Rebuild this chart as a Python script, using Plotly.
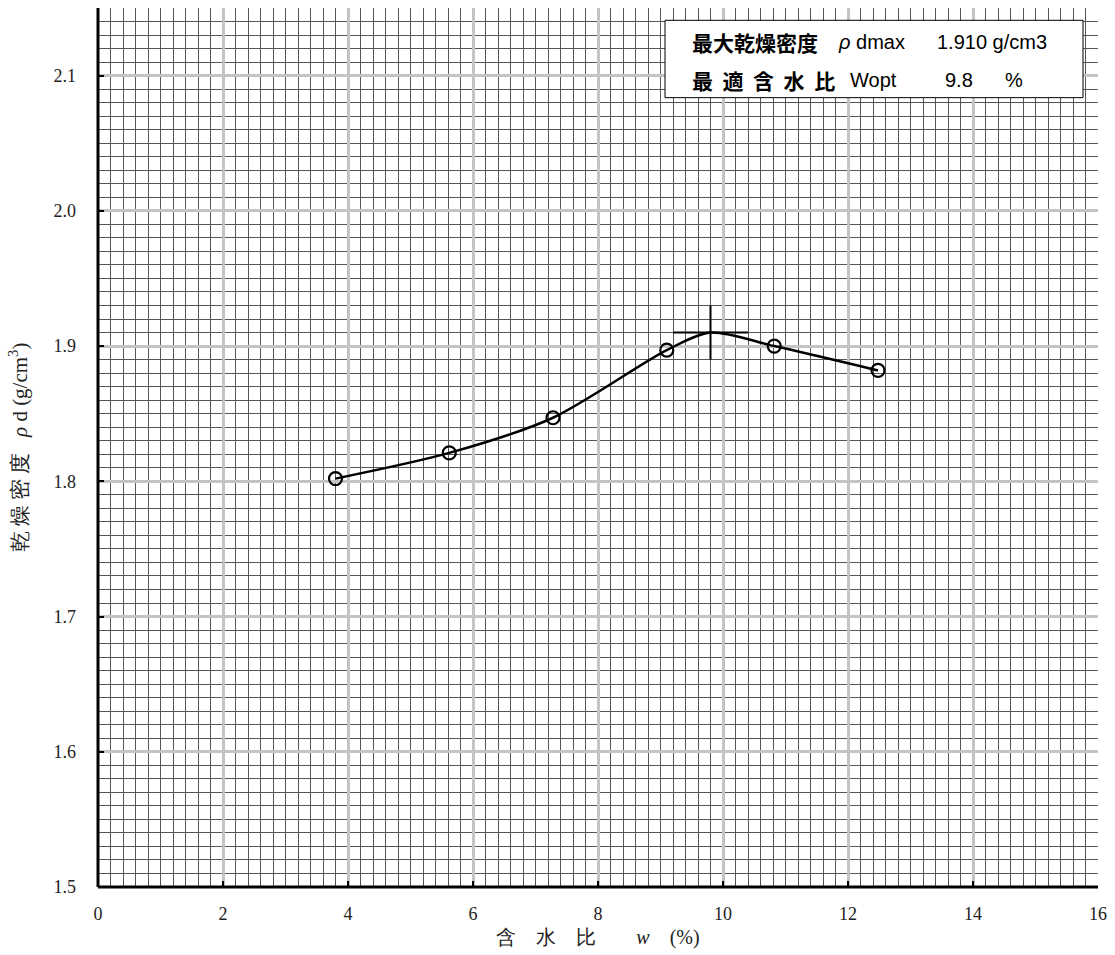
import plotly.graph_objects as go

# measured points
water_content = [3.8, 5.62, 7.28, 9.1, 10.82, 12.48]
dry_density = [1.802, 1.821, 1.847, 1.897, 1.900, 1.882]

# optimum
w_opt = 9.8
rho_dmax = 1.910

# curve through points and optimum
curve_x = [3.8, 5.62, 7.28, 9.1, 9.8, 10.82, 12.48]
curve_y = [1.802, 1.821, 1.847, 1.897, 1.910, 1.900, 1.882]

x_ticks = [0, 2, 4, 6, 8, 10, 12, 14, 16]
y_ticks = [1.5, 1.6, 1.7, 1.8, 1.9, 2.0, 2.1]

serif = "Liberation Serif"
cjk = "Noto Sans CJK JP"
sans = "Liberation Sans"

fig = go.Figure()

fig.add_trace(go.Scatter(
    x=curve_x, y=curve_y, mode="lines",
    line=dict(color="black", width=2.5, shape="spline", smoothing=0.8),
    hoverinfo="skip", showlegend=False))

fig.add_trace(go.Scatter(
    x=water_content, y=dry_density, mode="markers",
    marker=dict(symbol="circle-open", size=13, color="black", line=dict(width=2.2, color="black")),
    showlegend=False))

# optimum cross
fig.add_trace(go.Scatter(
    x=[w_opt - 0.6, w_opt + 0.6], y=[rho_dmax, rho_dmax], mode="lines",
    line=dict(color="black", width=2), showlegend=False, hoverinfo="skip"))
fig.add_trace(go.Scatter(
    x=[w_opt, w_opt], y=[rho_dmax - 0.02, rho_dmax + 0.02], mode="lines",
    line=dict(color="black", width=2), showlegend=False, hoverinfo="skip"))

fig.update_xaxes(
    range=[0, 16], tickvals=x_ticks, ticktext=[str(v) for v in x_ticks],
    showgrid=True, gridcolor="#c4c4c4", gridwidth=3,
    minor=dict(dtick=0.2, showgrid=True, gridcolor="#555555", gridwidth=1, ticks=""),
    showline=False, zeroline=False,
    ticks="inside", ticklen=6, tickwidth=2, tickcolor="black",
    tickfont=dict(family=serif, size=18, color="#222"),
    ticklabelstandoff=14,
    title=dict(text="含　水　比　　<i>w</i>　(%)", font=dict(family=serif, size=20, color="#222"), standoff=6),
)
fig.update_yaxes(
    range=[1.5, 2.15], tickvals=y_ticks, ticktext=[f"{v:.1f}" for v in y_ticks],
    showgrid=True, gridcolor="#c4c4c4", gridwidth=3,
    minor=dict(dtick=0.01, showgrid=True, gridcolor="#555555", gridwidth=1, ticks=""),
    showline=False, zeroline=False,
    ticks="inside", ticklen=6, tickwidth=2, tickcolor="black",
    tickfont=dict(family=serif, size=18, color="#222"),
    ticklabelstandoff=21,
    title=dict(text="乾\u00a0燥\u00a0密\u00a0度\u00a0\u00a0\u00a0<i>ρ</i>\u00a0d\u00a0(g/cm<sup>3</sup>)",
               font=dict(family=serif, size=21, color="#222"), standoff=20),
)

shapes = [
    # axis lines
    dict(type="line", xref="paper", yref="paper", x0=0, x1=0, y0=0, y1=1, line=dict(color="black", width=3)),
    dict(type="line", xref="paper", yref="paper", x0=0, x1=1, y0=0, y1=0, line=dict(color="black", width=3)),
    # info box
    dict(type="rect", xref="paper", yref="paper", x0=0.567, x1=0.985, y0=0.898, y1=0.986,
         line=dict(color="black", width=1), fillcolor="white", layer="above"),
]

cjk_font = dict(family=cjk, size=21, color="black")
lat_font = dict(family=sans, size=20, color="black")
nb = "\u00a0"
row1 = 0.961
row2 = 0.918
annotations = [
    dict(text="<b>最大乾燥密度</b>", x=0.592, y=row1, font=cjk_font),
    dict(text="<i>ρ</i> dmax", x=0.738, y=row1, font=lat_font),
    dict(text=f"{rho_dmax:.3f} g/cm3", x=0.8365, y=row1, font=lat_font),
    dict(text="<b>" + (nb * 2).join("最適含水比") + "</b>", x=0.592, y=row2, font=cjk_font),
    dict(text="Wopt", x=0.750, y=row2, font=lat_font),
    dict(text=f"{w_opt:.1f}", x=0.8445, y=row2, font=lat_font),
    dict(text="%", x=0.905, y=row2, font=lat_font),
]
for a in annotations:
    a.update(xref="paper", yref="paper", xanchor="left", yanchor="middle", showarrow=False)

fig.update_layout(
    width=1115, height=955,
    margin=dict(l=98, r=14, t=8, b=68),
    plot_bgcolor="white", paper_bgcolor="white",
    shapes=shapes, annotations=annotations,
    showlegend=False,
)

# remove the default 8px page margin so the figure fills the window exactly
fig.write_html("out.html", config={"displayModeBar": False},
               post_script="document.body.style.margin='0px';document.body.style.overflow='hidden';")
